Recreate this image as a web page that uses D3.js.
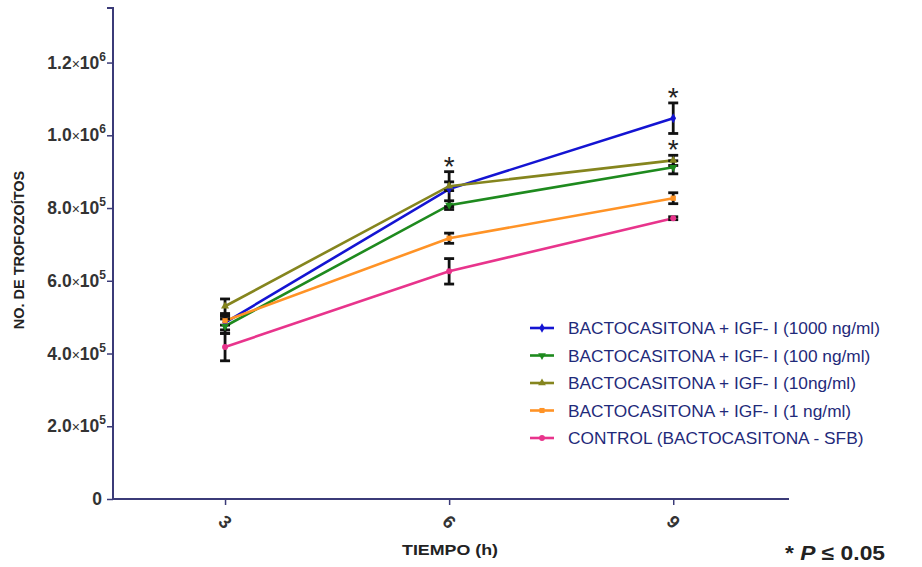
<!DOCTYPE html>
<html>
<head>
<meta charset="utf-8">
<script src="https://cdn.jsdelivr.net/npm/d3@7"></script>
<style>
  body { margin: 0; background: #fff; }
  svg { font-family: "Liberation Sans", Arial, sans-serif; }
</style>
</head>
<body>
<div id="chart"></div>
<script>
// data
var hours = [3, 6, 9];
var seriesNames = [
  "BACTOCASITONA + IGF- I (1000 ng/ml)",
  "BACTOCASITONA + IGF- I (100 ng/ml)",
  "BACTOCASITONA + IGF- I (10ng/ml)",
  "BACTOCASITONA + IGF- I (1 ng/ml)",
  "CONTROL (BACTOCASITONA - SFB)"
];
var igf1000 = [485000, 852000, 1047000];
var igf100 = [475000, 808000, 912000];
var igf10 = [530000, 860000, 931000];
var igf1 = [490000, 717000, 827000];
var control = [418000, 626000, 772000];
var err1000 = [20000, 48000, 42000];
var err100 = [20000, 12000, 18000];
var err10 = [20000, 12000, 14000];
var err1 = [12000, 14000, 15000];
var errControl = [38000, 35000, 4000];
var yTicks = [0, 200000, 400000, 600000, 800000, 1000000, 1200000];
// asterisks: [hour, value above which it sits]
var stars = [[6, 900000], [9, 1090000], [9, 945000]];

var colors = ["#1414d2", "#1e8a1e", "#85851e", "#ff9326", "#e8348c"];
var symbols = [d3.symbolDiamond, d3.symbolTriangle, d3.symbolTriangle, d3.symbolSquare, d3.symbolCircle];
var flips = [0, 180, 0, 0, 0];

var width = 922, height = 567;
var svg = d3.select("#chart").append("svg")
  .attr("width", width)
  .attr("height", height);

var x = d3.scaleLinear().domain([1.5, 10.55]).range([113, 789]);
var y = d3.scaleLinear().domain([0, 1350000]).range([499, 8]);

var axisColor = "#3b3b78";

// y axis
var yAxis = d3.axisLeft(y).tickValues(yTicks).tickSize(6).tickFormat("");
var gy = svg.append("g").attr("transform", "translate(113,0)").call(yAxis);
gy.select(".domain").attr("stroke", axisColor).attr("stroke-width", 2).attr("d", "M-6,8H0V499");
gy.selectAll(".tick line").attr("stroke", axisColor).attr("stroke-width", 1.5);

// y tick labels like 1.2x10^6
yTicks.forEach(function(v) {
  var t = svg.append("text")
    .attr("x", v === 0 ? 102 : 106).attr("y", y(v) + 6)
    .attr("text-anchor", "end")
    .attr("font-size", 17.5).attr("font-weight", "bold").attr("fill", "#333");
  if (v === 0) { t.text("0"); return; }
  var e = Math.floor(Math.log10(v));
  var m = (v / Math.pow(10, e)).toFixed(1);
  t.append("tspan").text(m);
  t.append("tspan").attr("font-weight", "normal").attr("font-size", 14).text("\u00d7");
  t.append("tspan").text("10");
  t.append("tspan").attr("font-size", 12).attr("dy", -8).text(e);
});

// x axis
var xAxis = d3.axisBottom(x).tickValues(hours).tickSize(6).tickFormat("");
var gx = svg.append("g").attr("transform", "translate(0,499)").call(xAxis);
gx.select(".domain").attr("stroke", axisColor).attr("stroke-width", 2).attr("d", "M113,0H789");
gx.selectAll(".tick line").attr("stroke", axisColor).attr("stroke-width", 1.5);

hours.forEach(function(h) {
  svg.append("text")
    .attr("transform", "translate(" + x(h) + ",522) rotate(45)")
    .attr("text-anchor", "middle").attr("dy", 6)
    .attr("font-size", 18).attr("font-weight", "bold").attr("fill", "#333")
    .text(h);
});

// axis titles
svg.append("text")
  .attr("transform", "translate(24,250) rotate(-90)")
  .attr("text-anchor", "middle")
  .attr("font-size", 14.5).attr("font-weight", "bold").attr("fill", "#222")
  .text("NO. DE TROFOZOÍTOS");

svg.append("text")
  .attr("x", 450).attr("y", 555)
  .attr("text-anchor", "middle")
  .attr("font-size", 15).attr("font-weight", "bold").attr("fill", "#222")
  .attr("textLength", 96).attr("lengthAdjust", "spacingAndGlyphs")
  .text("TIEMPO (h)");

var pNote = svg.append("text")
  .attr("x", 785).attr("y", 560)
  .attr("font-size", 20).attr("font-weight", "bold").attr("fill", "#222")
  .attr("textLength", 100).attr("lengthAdjust", "spacingAndGlyphs");
pNote.append("tspan").text("* ");
pNote.append("tspan").attr("font-style", "italic").text("P");
pNote.append("tspan").text(" \u2264 0.05");

// series
var allValues = [igf1000, igf100, igf10, igf1, control];
var allErrors = [err1000, err100, err10, err1, errControl];
var line = d3.line().x(function(d, i) { return x(hours[i]); }).y(function(d) { return y(d); });

allValues.forEach(function(vals, s) {
  svg.append("path")
    .attr("d", line(vals))
    .attr("fill", "none")
    .attr("stroke", colors[s])
    .attr("stroke-width", 2.6);
});

// error bars on top of lines
allValues.forEach(function(vals, s) {
  vals.forEach(function(v, i) {
    var cx = x(hours[i]);
    var e = allErrors[s][i];
    var g = svg.append("g").attr("stroke", "#111").attr("stroke-width", 2.8);
    g.append("line").attr("x1", cx).attr("x2", cx).attr("y1", y(v + e)).attr("y2", y(v - e));
    g.append("line").attr("x1", cx - 5).attr("x2", cx + 5).attr("y1", y(v + e)).attr("y2", y(v + e));
    g.append("line").attr("x1", cx - 5).attr("x2", cx + 5).attr("y1", y(v - e)).attr("y2", y(v - e));
  });
});

allValues.forEach(function(vals, s) {
  vals.forEach(function(v, i) {
    svg.append("path")
      .attr("d", d3.symbol().type(symbols[s]).size(28)())
      .attr("transform", "translate(" + x(hours[i]) + "," + y(v) + ") rotate(" + flips[s] + ")")
      .attr("fill", colors[s]);
  });
});

// significance stars
stars.forEach(function(st) {
  svg.append("text")
    .attr("x", x(st[0])).attr("y", y(st[1]) + 4)
    .attr("text-anchor", "middle")
    .attr("font-size", 28).attr("fill", "#222")
    .text("*");
});

// legend
var legend = svg.append("g").attr("transform", "translate(530,328)");
seriesNames.forEach(function(name, s) {
  var row = legend.append("g").attr("transform", "translate(0," + (s * 27.5) + ")");
  row.append("line").attr("x1", 0).attr("x2", 24).attr("y1", 0).attr("y2", 0)
    .attr("stroke", colors[s]).attr("stroke-width", 2.6);
  row.append("path")
    .attr("d", d3.symbol().type(symbols[s]).size(26)())
    .attr("transform", "translate(12,0) rotate(" + flips[s] + ")")
    .attr("fill", colors[s]);
  row.append("text")
    .attr("x", 38).attr("y", 6)
    .attr("font-size", 17.3).attr("fill", "#1f2a7a")
    .text(name);
});
</script>
</body>
</html>
